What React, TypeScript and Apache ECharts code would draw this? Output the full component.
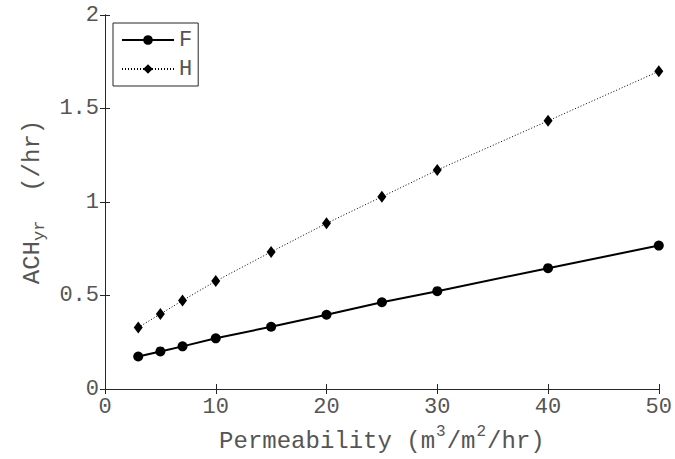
import React, { useEffect, useRef } from "react";
import * as echarts from "echarts";

const permeability = [3, 5, 7, 10, 15, 20, 25, 30, 40, 50];
const seriesF = [0.174, 0.201, 0.228, 0.271, 0.333, 0.397, 0.464, 0.523, 0.646, 0.767];
const seriesH = [0.329, 0.401, 0.473, 0.577, 0.733, 0.886, 1.028, 1.171, 1.434, 1.699];
const xTicks = [0, 10, 20, 30, 40, 50];
const yTicks = [0, 0.5, 1, 1.5, 2];

const FONT = "'Liberation Mono', 'DejaVu Sans Mono', monospace";
const TXT = "#555555";
const AX = "#262626";

export default function App() {
  const ref = useRef<HTMLDivElement>(null);
  useEffect(() => {
    if (!ref.current) return;
    const chart = echarts.init(ref.current, null, { renderer: "svg" });
    const baseAxis = {
      axisLine: { show: true, lineStyle: { color: AX, width: 1 } },
      axisTick: { show: true, inside: true, length: 5, lineStyle: { color: AX } },
      splitLine: { show: false },
    };
    chart.setOption({
      animation: false,
      backgroundColor: "#fff",
      grid: { left: 105, right: 15, top: 15, bottom: 70, containLabel: false },
      legend: {
        show: true,
        orient: "vertical",
        left: 113,
        top: 23,
        padding: [6, 6, 6, 8],
        itemGap: 7,
        itemWidth: 52,
        itemHeight: 12,
        borderColor: AX,
        borderWidth: 1,
        backgroundColor: "#fff",
        textStyle: { fontFamily: FONT, fontSize: 22, color: TXT, padding: [0, 0, 0, 0] },
        data: ["F", "H"],
      },
      xAxis: [
        {
          ...baseAxis,
          type: "value",
          min: 0,
          max: 50,
          interval: 10,
          position: "bottom",
          axisLabel: {
            fontFamily: FONT,
            fontSize: 22,
            color: TXT,
            margin: 7,
            formatter: (v: number) => (xTicks.includes(v) ? String(v) : ""),
          },
          name: "{t|Permeability (m}{s|3}{t|/m}{s|2}{t|/hr)}",
          nameLocation: "middle",
          nameGap: 35,
          nameTextStyle: {
            rich: {
              t: { fontFamily: FONT, fontSize: 24, color: TXT, verticalAlign: "bottom", lineHeight: 29 },
              s: { fontFamily: FONT, fontSize: 16, color: TXT, verticalAlign: "top", lineHeight: 29, padding: [0, 1, 13, 1] },
            },
          },
        },
        {
          ...baseAxis,
          type: "value",
          min: 0,
          max: 50,
          interval: 10,
          position: "top",
          axisLabel: { show: false },
        },
      ],
      yAxis: [
        {
          ...baseAxis,
          type: "value",
          min: 0,
          max: 2,
          interval: 0.5,
          position: "left",
          axisLabel: {
            fontFamily: FONT,
            fontSize: 22,
            color: TXT,
            margin: 6,
            formatter: (v: number) => (yTicks.includes(v) ? String(v) : ""),
          },
          name: "{t|ACH}{s|yr}{t|  (/hr)}",
          nameLocation: "middle",
          nameGap: 58,
          nameRotate: 90,
          nameTextStyle: {
            rich: {
              t: { fontFamily: FONT, fontSize: 24, color: TXT, lineHeight: 29 },
              s: { fontFamily: FONT, fontSize: 17, color: TXT, lineHeight: 29, padding: [14, 0, 0, 0] },
            },
          },
        },
        {
          ...baseAxis,
          type: "value",
          min: 0,
          max: 2,
          interval: 0.5,
          position: "right",
          axisLabel: { show: false },
        },
      ],
      series: [
        {
          name: "F",
          type: "line",
          data: permeability.map((x, i) => [x, seriesF[i]]),
          symbol: "circle",
          symbolSize: 10,
          lineStyle: { color: "#000", width: 2, type: "solid" },
          itemStyle: { color: "#000" },
        },
        {
          name: "H",
          type: "line",
          data: permeability.map((x, i) => [x, seriesH[i]]),
          symbol: "diamond",
          symbolSize: [9, 12],
          lineStyle: { color: "#000", width: 1, type: [1, 2] },
          itemStyle: { color: "#000" },
        },
      ],
    });
    return () => chart.dispose();
  }, []);
  return <div ref={ref} style={{ width: 675, height: 459, position: "absolute", left: 0, top: 0 }} />;
}
